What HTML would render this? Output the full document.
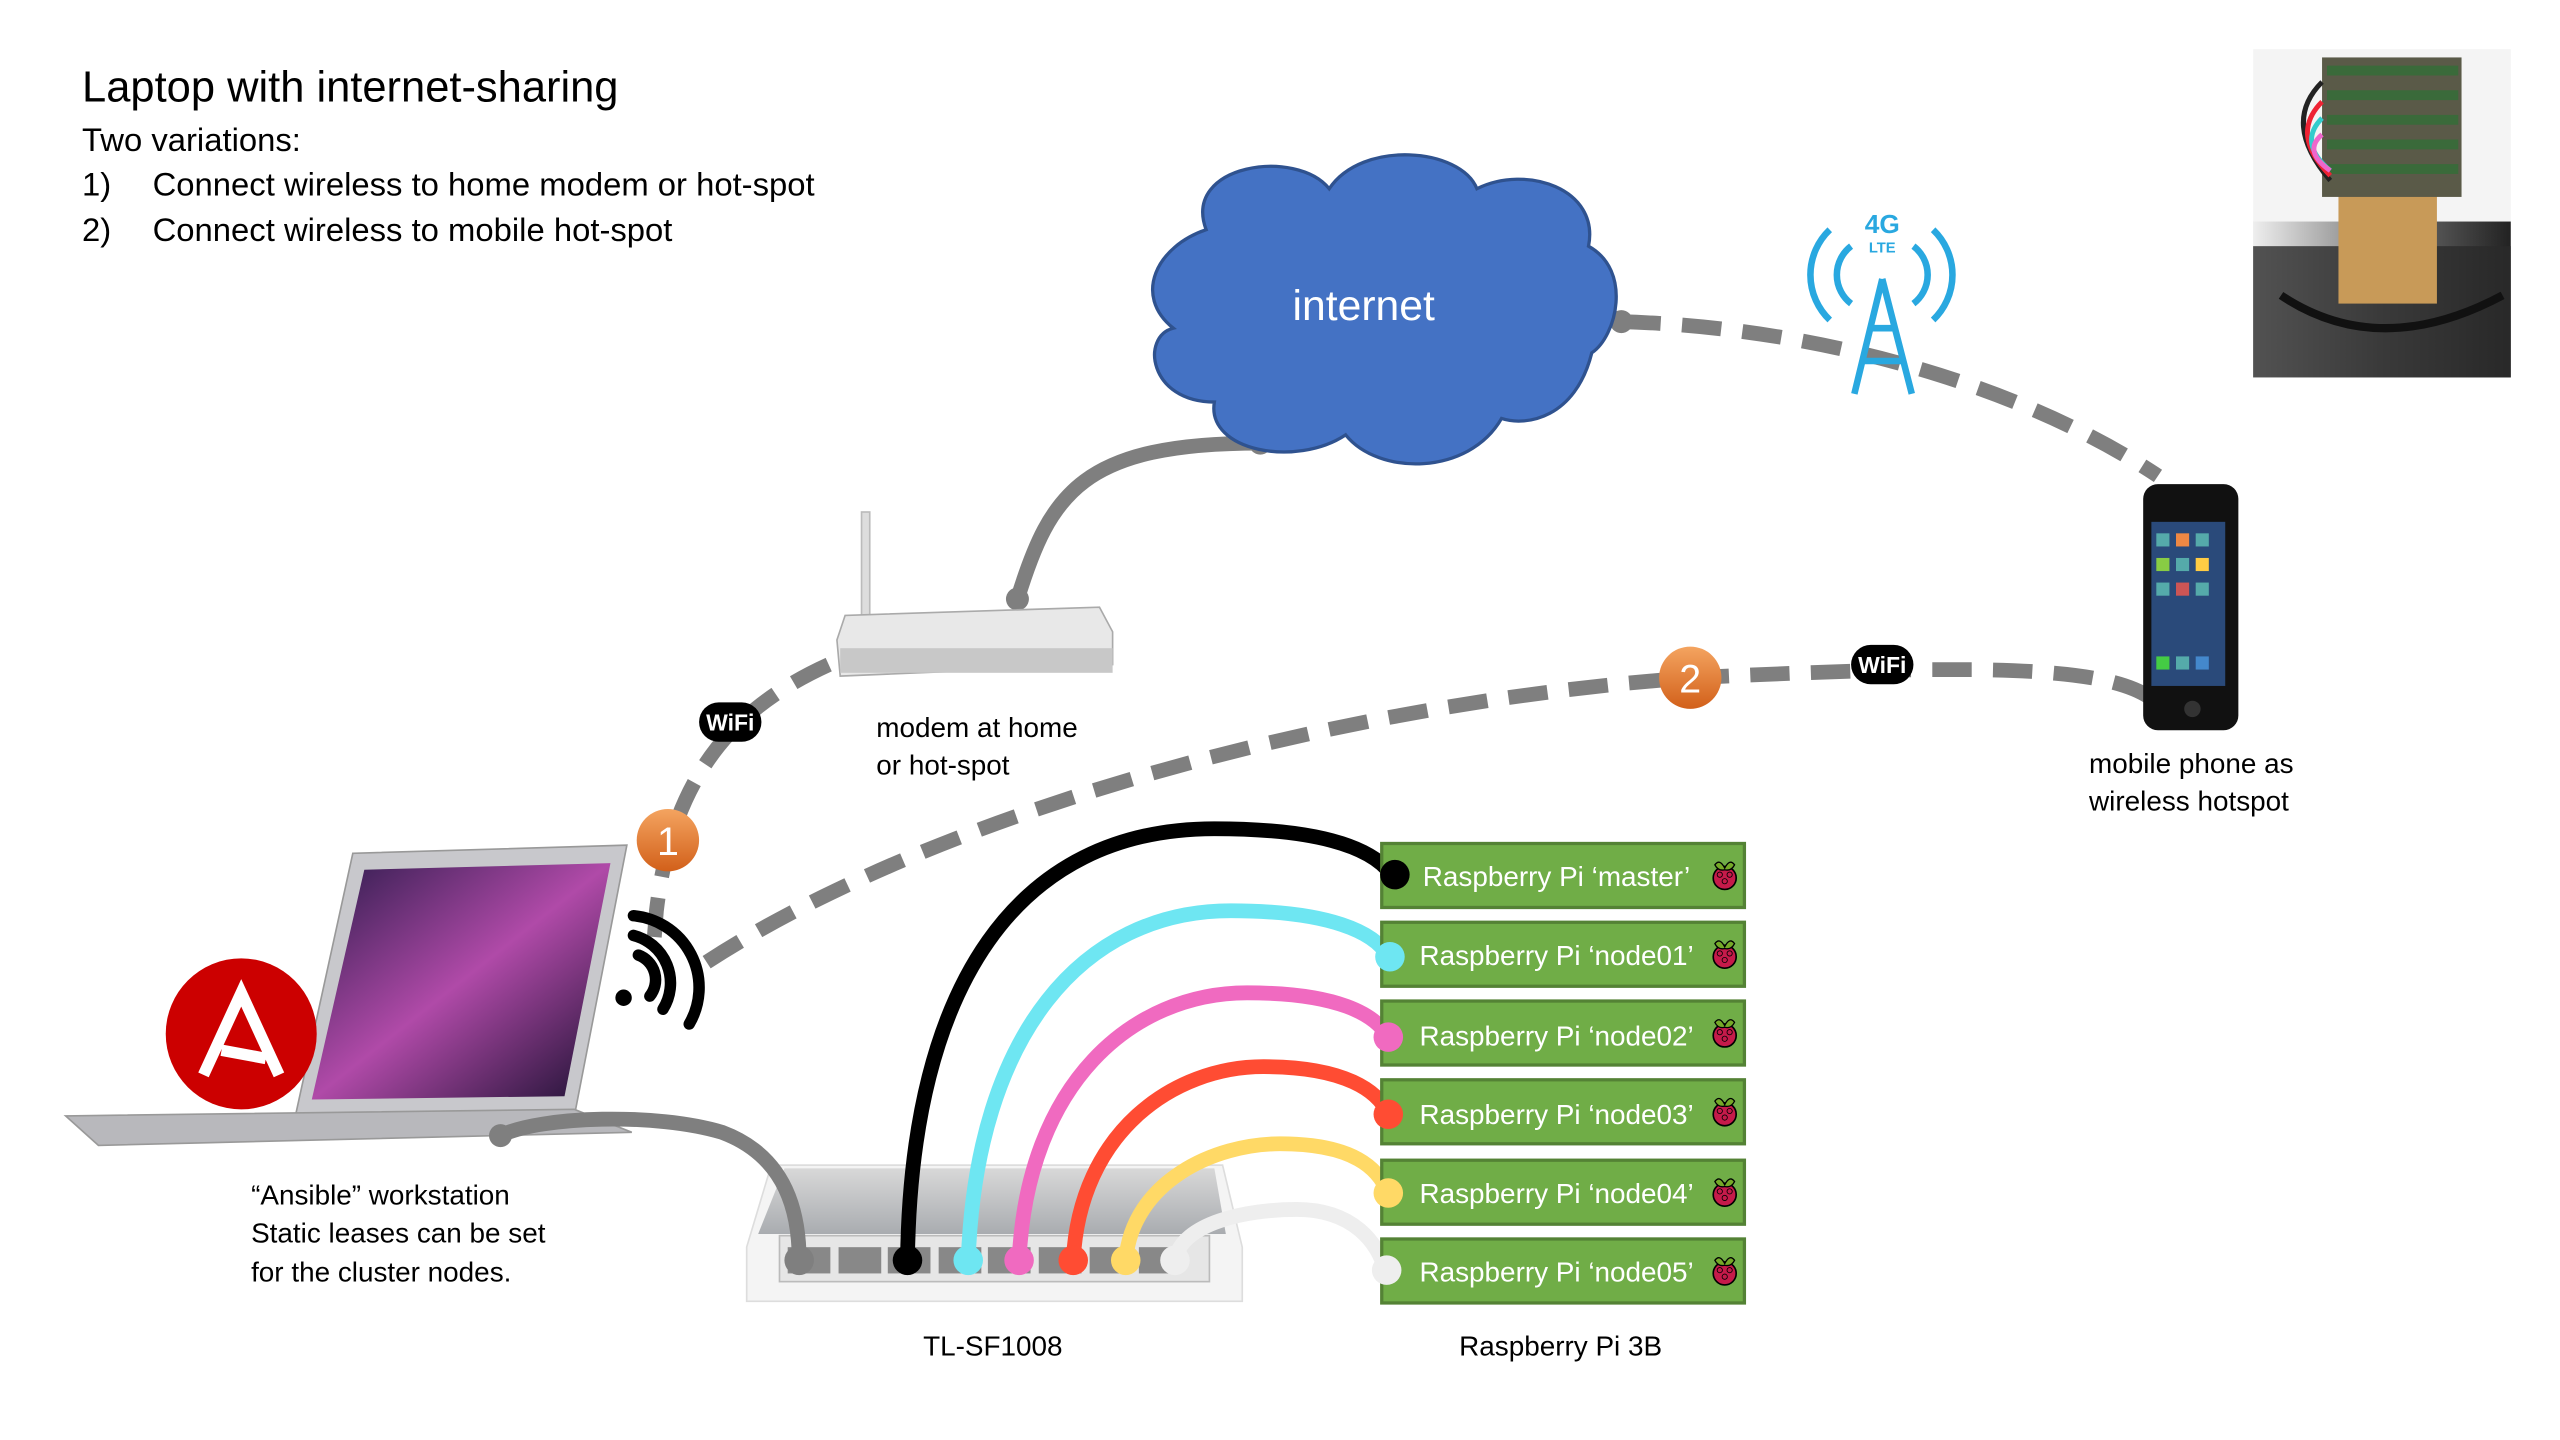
<!DOCTYPE html>
<html><head><meta charset="utf-8"><style>
html,body{margin:0;padding:0;background:#fff;}
svg{display:block;}
text{font-family:"Liberation Sans",sans-serif;}
</style></head><body>
<svg width="2560" height="1440" viewBox="0 0 1560 877.5" xmlns="http://www.w3.org/2000/svg">
<defs>
<linearGradient id="og" x1="0" y1="0" x2="0" y2="1"><stop offset="0" stop-color="#f4a460"/><stop offset="1" stop-color="#d2601a"/></linearGradient>
<linearGradient id="sw" x1="0" y1="0" x2="0" y2="1"><stop offset="0" stop-color="#d8d8d8"/><stop offset="1" stop-color="#a9acb0"/></linearGradient>
<linearGradient id="scr" x1="0" y1="0" x2="1" y2="1"><stop offset="0" stop-color="#2a1a4a"/><stop offset="0.5" stop-color="#b04aa8"/><stop offset="1" stop-color="#1a1030"/></linearGradient>
<linearGradient id="ph" x1="0" y1="0" x2="1" y2="0"><stop offset="0" stop-color="#eee"/><stop offset="0.5" stop-color="#777"/><stop offset="1" stop-color="#222"/></linearGradient>
<g id="rasp"><circle cx="0" cy="2" r="7" fill="#c51a4a" stroke="#000" stroke-width="1"/><path d="M-6 -6 q3 -4 6 2 q3 -6 6 -2 q-2 4 -6 3 q-4 1 -6 -3z" fill="#75a928" stroke="#000" stroke-width="0.8"/><circle cx="-3" cy="0" r="1.6" fill="none" stroke="#000" stroke-width=".5"/><circle cx="3" cy="0" r="1.6" fill="none" stroke="#000" stroke-width=".5"/><circle cx="0" cy="4" r="1.6" fill="none" stroke="#000" stroke-width=".5"/></g>
<g id="wifi"><rect x="-19" y="-12" width="38" height="24" rx="12" fill="#000"/><text x="0" y="5" font-size="14" font-weight="bold" fill="#fff" text-anchor="middle">WiFi</text></g>
</defs>

<text x="50" y="62" font-size="26.5" fill="#000">Laptop with internet-sharing</text>
<text x="50" y="92" font-size="20">Two variations:</text>
<text x="50" y="119" font-size="20">1)</text><text x="93" y="119" font-size="20">Connect wireless to home modem or hot-spot</text>
<text x="50" y="147" font-size="20">2)</text><text x="93" y="147" font-size="20">Connect wireless to mobile hot-spot</text>

<!-- photo top right -->
<rect x="1373" y="30" width="157" height="200" fill="#f4f4f4"/>
<rect x="1373" y="135" width="157" height="95" fill="url(#ph)"/>
<rect x="1373" y="150" width="157" height="80" fill="#2a2a2a" opacity="0.8"/>
<rect x="1425" y="115" width="60" height="70" fill="#c89a58"/>
<rect x="1415" y="35" width="85" height="85" fill="#5a5a48"/>
<g fill="#3a6a3a"><rect x="1418" y="40" width="80" height="6"/><rect x="1418" y="55" width="80" height="6"/><rect x="1418" y="70" width="80" height="6"/><rect x="1418" y="85" width="80" height="6"/><rect x="1418" y="100" width="80" height="6"/></g>
<g stroke-width="3" fill="none"><path d="M1415 50 q-25 25 5 60" stroke="#222"/><path d="M1415 62 q-20 20 5 45" stroke="#e23"/><path d="M1415 72 q-15 15 5 32" stroke="#3cc"/><path d="M1415 82 q-12 10 5 22" stroke="#e6c"/></g>
<path d="M1390 180 q60 40 135 0" stroke="#111" stroke-width="5" fill="none"/>

<!-- connectors -->
<path d="M620 365 C640 300 660 270 768 270" stroke="#7f7f7f" stroke-width="9" fill="none" stroke-linecap="round"/>
<path d="M988 196 C1120 200 1240 240 1315 290" stroke="#7f7f7f" stroke-width="9" fill="none" stroke-dasharray="24 13"/>
<path d="M505 405 C450 430 410 470 400 555 L398 580" stroke="#7f7f7f" stroke-width="9" fill="none" stroke-dasharray="24 13"/>
<path d="M1310 425 C1280 405 1200 405 1030 413 C800 430 560 500 425 590" stroke="#7f7f7f" stroke-width="9" fill="none" stroke-dasharray="24 13"/>
<circle cx="988" cy="196" r="7" fill="#7f7f7f"/><circle cx="768" cy="270" r="7" fill="#7f7f7f"/><circle cx="620" cy="365" r="7" fill="#7f7f7f"/>

<!-- cloud -->
<path d="M735 140 C720 100 790 90 810 115 C830 85 890 90 900 115 C930 100 975 115 968 150 C995 165 985 205 970 215 C960 255 930 260 915 255 C895 290 840 290 820 265 C790 285 735 275 740 245 C700 245 695 205 715 200 C690 180 705 150 735 140Z" fill="#4472c4" stroke="#2f528f" stroke-width="2"/>
<text x="831" y="195" font-size="26" fill="#fff" text-anchor="middle">internet</text>

<!-- 4G tower -->
<g stroke="#29a8e0" fill="none" stroke-width="4">
<path d="M1147 170 L1130 240 M1147 170 L1165 240 M1135 220 L1160 220 M1140 200 L1155 200"/>
<path d="M1128 150 a22 22 0 0 0 0 35 M1166 150 a22 22 0 0 1 0 35"/>
<path d="M1115 140 a38 38 0 0 0 0 55 M1178 140 a38 38 0 0 1 0 55"/>
</g>
<text x="1147" y="142" font-size="16" font-weight="bold" fill="#29a8e0" text-anchor="middle">4G</text>
<text x="1147" y="154" font-size="9" font-weight="bold" fill="#29a8e0" text-anchor="middle">LTE</text>

<!-- phone -->
<rect x="1306" y="295" width="58" height="150" rx="9" fill="#111"/>
<rect x="1311" y="318" width="45" height="100" fill="#2a4a7a"/>
<g fill="#5aa"><rect x="1314" y="325" width="8" height="8"/><rect x="1326" y="325" width="8" height="8" fill="#e84"/><rect x="1338" y="325" width="8" height="8"/><rect x="1314" y="340" width="8" height="8" fill="#8c4"/><rect x="1326" y="340" width="8" height="8"/><rect x="1338" y="340" width="8" height="8" fill="#fc4"/><rect x="1314" y="355" width="8" height="8"/><rect x="1326" y="355" width="8" height="8" fill="#c55"/><rect x="1338" y="355" width="8" height="8"/><rect x="1314" y="400" width="8" height="8" fill="#4c4"/><rect x="1326" y="400" width="8" height="8"/><rect x="1338" y="400" width="8" height="8" fill="#48c"/></g>
<circle cx="1336" cy="432" r="5" fill="#333"/>
<text x="1273" y="471" font-size="17">mobile phone as</text>
<text x="1273" y="494" font-size="17">wireless hotspot</text>

<!-- router -->
<rect x="525" y="312" width="5" height="70" fill="#ddd" stroke="#bbb"/>
<path d="M515 375 L670 370 L678 385 L678 405 L512 412 L510 390Z" fill="#e8e8e8" stroke="#aaa"/>
<rect x="512" y="395" width="166" height="15" fill="#c8c8c8"/>
<text x="534" y="449" font-size="17">modem at home</text>
<text x="534" y="472" font-size="17">or hot-spot</text>

<use href="#wifi" x="445" y="440"/>
<use href="#wifi" x="1147" y="405"/>
<circle cx="407" cy="512" r="19" fill="url(#og)"/><text x="407" y="521" font-size="24" fill="#fff" text-anchor="middle">1</text>
<circle cx="1030" cy="413" r="19" fill="url(#og)"/><text x="1030" y="422" font-size="24" fill="#fff" text-anchor="middle">2</text>

<!-- laptop -->
<path d="M215 520 L382 515 L350 680 L180 680Z" fill="#c8c8cc" stroke="#999"/>
<path d="M222 530 L372 526 L344 668 L190 670Z" fill="url(#scr)"/>
<path d="M40 680 L350 676 L385 690 L60 698Z" fill="#b8b8bc" stroke="#999"/>
<circle cx="147" cy="630" r="46" fill="#cc0000"/>
<path d="M124 655 L147 605 L170 655 M135 640 L162 645" stroke="#fff" stroke-width="7" fill="none"/>
<g stroke="#000" stroke-width="7" fill="none" stroke-linecap="round"><path d="M389 582 a16 16 0 0 1 7 25"/><path d="M386 570 a30 30 0 0 1 18 45"/><path d="M386 558 a44 44 0 0 1 34 66"/></g>
<circle cx="380" cy="608" r="5" fill="#000"/>
<text x="153" y="734" font-size="17">“Ansible” workstation</text>
<text x="153" y="757" font-size="17">Static leases can be set</text>
<text x="153" y="781" font-size="17">for the cluster nodes.</text>

<!-- switch -->
<path d="M470 710 L745 710 L757 760 L757 793 L455 793 L455 760Z" fill="#f4f4f4" stroke="#ddd"/>
<path d="M478 712 L740 712 L747 752 L462 752Z" fill="url(#sw)"/>
<rect x="475" y="753" width="262" height="28" fill="#e6e6e6" stroke="#bbb"/>
<g fill="#888"><rect x="480" y="760" width="26" height="16"/><rect x="511" y="760" width="26" height="16"/><rect x="541" y="760" width="26" height="16"/><rect x="572" y="760" width="26" height="16"/><rect x="602" y="760" width="26" height="16"/><rect x="633" y="760" width="26" height="16"/><rect x="664" y="760" width="26" height="16"/><rect x="694" y="760" width="26" height="16"/></g>
<text x="605" y="826" font-size="17" text-anchor="middle">TL-SF1008</text>

<!-- cables -->
<g fill="none" stroke-width="9">
<path d="M305 692 C330 680 400 678 440 690 C480 705 487 740 487 768" stroke="#7f7f7f"/>
<path d="M553 768 C555 600 620 505 740 505 C800 505 835 515 848 533" stroke="#000"/>
<path d="M590 768 C595 630 660 555 750 555 C810 555 838 568 846 583" stroke="#6ee6f2"/>
<path d="M621 768 C626 660 690 605 760 605 C815 605 838 618 846 632" stroke="#f06ac0"/>
<path d="M654 768 C658 690 715 650 770 650 C820 650 840 665 846 679" stroke="#ff4c33"/>
<path d="M686 768 C690 720 740 697 780 697 C825 697 840 712 846 727" stroke="#ffd966"/>
<path d="M716 768 C720 745 760 737 790 737 C825 737 840 758 844 774" stroke="#eeeeee"/>
</g>
<circle cx="487" cy="768" r="9" fill="#7f7f7f"/><circle cx="305" cy="692" r="7" fill="#7f7f7f"/>
<circle cx="553" cy="768" r="9" fill="#000"/><circle cx="590" cy="768" r="9" fill="#6ee6f2"/><circle cx="621" cy="768" r="9" fill="#f06ac0"/><circle cx="654" cy="768" r="9" fill="#ff4c33"/><circle cx="686" cy="768" r="9" fill="#ffd966"/><circle cx="716" cy="768" r="9" fill="#eeeeee"/>

<g stroke="#548235" stroke-width="2" fill="#70ad47">
<rect x="842" y="514" width="221" height="39"/><rect x="842" y="562" width="221" height="39"/><rect x="842" y="610" width="221" height="39"/><rect x="842" y="658" width="221" height="39"/><rect x="842" y="707" width="221" height="39"/><rect x="842" y="755" width="221" height="39"/>
</g>
<circle cx="850" cy="533" r="9" fill="#000"/><circle cx="847" cy="583" r="9" fill="#6ee6f2"/><circle cx="846" cy="632" r="9" fill="#f06ac0"/><circle cx="846" cy="679" r="9" fill="#ff4c33"/><circle cx="846" cy="727" r="9" fill="#ffd966"/><circle cx="845" cy="774" r="9" fill="#eeeeee"/>
<g font-size="17" fill="#fff">
<text x="867" y="540">Raspberry Pi ‘master’</text>
<text x="865" y="588">Raspberry Pi ‘node01’</text>
<text x="865" y="637">Raspberry Pi ‘node02’</text>
<text x="865" y="685">Raspberry Pi ‘node03’</text>
<text x="865" y="733">Raspberry Pi ‘node04’</text>
<text x="865" y="781">Raspberry Pi ‘node05’</text>
</g>
<use href="#rasp" x="1051" y="533"/><use href="#rasp" x="1051" y="581"/><use href="#rasp" x="1051" y="629"/><use href="#rasp" x="1051" y="677"/><use href="#rasp" x="1051" y="726"/><use href="#rasp" x="1051" y="774"/>
<text x="951" y="826" font-size="17" text-anchor="middle">Raspberry Pi 3B</text>
</svg>
</body></html>
